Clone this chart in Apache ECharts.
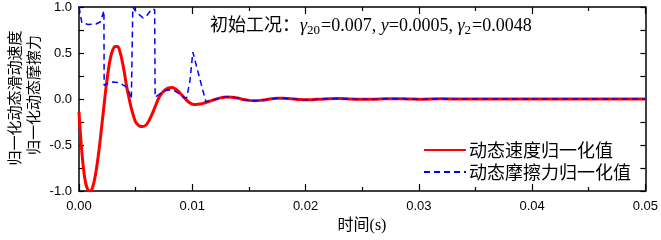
<!DOCTYPE html>
<html>
<head>
<meta charset="utf-8">
<script src="https://cdn.jsdelivr.net/npm/echarts@6/dist/echarts.min.js"></script>
<style>
  html, body { margin: 0; padding: 0; background: #fff; }
  #chart { width: 661px; height: 240px; }
</style>
</head>
<body>
<div id="chart"></div>
<script>
// 动态速度归一化值
const speedTime = [
  0, 0.0002, 0.0004, 0.0006, 0.0008, 0.001, 0.0012, 0.0014, 0.0016, 0.0018,
  0.002, 0.0022, 0.0024, 0.0026, 0.0028, 0.003, 0.0032, 0.0034, 0.0036, 0.0038,
  0.004, 0.0042, 0.0044, 0.0046, 0.0048, 0.005, 0.0053, 0.0056, 0.0059, 0.0062,
  0.0065, 0.0068, 0.007, 0.0073, 0.0076, 0.0079, 0.0082, 0.0085, 0.0088, 0.0091,
  0.0094, 0.0097, 0.01, 0.0103, 0.0107, 0.011, 0.0115, 0.012, 0.0125, 0.013,
  0.0135, 0.014, 0.0145, 0.015, 0.0155, 0.016, 0.0165, 0.017, 0.0175, 0.018,
  0.0185, 0.019, 0.0195, 0.02, 0.0205, 0.021, 0.022, 0.023, 0.024, 0.025,
  0.026, 0.027, 0.028, 0.029, 0.03, 0.032, 0.034, 0.036, 0.04, 0.045, 0.05
]
const speedValues = [
  -0.14, -0.5, -0.76, -0.92, -0.99, -1.0, -0.96, -0.86, -0.71, -0.52,
  -0.3, -0.08, 0.14, 0.32, 0.46, 0.54, 0.57, 0.57, 0.52, 0.42,
  0.29, 0.14, 0.02, -0.09, -0.18, -0.25, -0.29, -0.3, -0.285, -0.23,
  -0.15, -0.06, 0.0, 0.06, 0.1, 0.12, 0.125, 0.11, 0.08, 0.04,
  0.0, -0.035, -0.055, -0.06, -0.055, -0.045, -0.025, -0.005, 0.012, 0.022,
  0.02, 0.01, -0.005, -0.015, -0.018, -0.015, -0.007, 0.002, 0.007, 0.008,
  0.005, 0.0, -0.006, -0.009, -0.008, -0.004, 0.003, 0.005, 0.0, -0.004,
  -0.003, 0.002, 0.004, 0.001, -0.002, 0.002, -0.001, 0.001, 0, 0, 0
]

// 动态摩擦力归一化值
const frictionTime = [
  0, 0.00025, 0.0008, 0.0015, 0.0019, 0.0022, 0.00222, 0.0026, 0.003, 0.0034,
  0.0038, 0.0042, 0.0044, 0.00462, 0.00475, 0.0049, 0.0053, 0.00566, 0.006, 0.00645,
  0.00668, 0.00672, 0.0072, 0.0076, 0.008, 0.0084, 0.0088, 0.0092, 0.0095, 0.0098,
  0.01005, 0.0106, 0.0112, 0.0115, 0.012, 0.0125, 0.013, 0.0135, 0.014, 0.0145,
  0.015, 0.0155, 0.016, 0.0165, 0.017, 0.0175, 0.018, 0.0185, 0.019, 0.0195,
  0.02, 0.0205, 0.021, 0.022, 0.023, 0.024, 0.025, 0.026, 0.027, 0.028,
  0.029, 0.03, 0.032, 0.034, 0.036, 0.04, 0.045, 0.05
]
const frictionValues = [
  1.0, 0.83, 0.81, 0.815, 0.84, 0.96, 0.15, 0.17, 0.185, 0.18,
  0.16, 0.13, 0.08, 0.0, 1.0, 0.97, 0.92, 0.88, 0.91, 0.98,
  0.97, 0.02, 0.06, 0.09, 0.1, 0.09, 0.06, 0.02, 0.01, 0.2,
  0.51, 0.25, -0.03, -0.025, -0.005, 0.012, 0.022, 0.02, 0.01, -0.005,
  -0.015, -0.018, -0.015, -0.007, 0.002, 0.007, 0.008, 0.005, 0.0, -0.006,
  -0.009, -0.008, -0.004, 0.003, 0.005, 0.0, -0.004, -0.003, 0.002, 0.004,
  0.001, -0.002, 0.002, -0.001, 0.001, 0, 0, 0
]

const seriesNames = ['动态速度归一化值', '动态摩擦力归一化值']
const xTicks = { min: 0, max: 0.05, interval: 0.01 }
const yTicks = { min: -1, max: 1, interval: 0.5 }

const chart = echarts.init(document.getElementById('chart'), null, { renderer: 'canvas' })

const axisLine = { show: true, onZero: false, lineStyle: { color: '#000', width: 1.5 } }
const tickStyle = { color: '#000', width: 1.2 }
const labelFont = { color: '#000', fontSize: 13, fontFamily: 'Liberation Sans, Arial, sans-serif' }
const serif = 'Liberation Serif, Noto Sans CJK SC, serif'

chart.setOption({
  animation: false,
  grid: { left: 79, right: 14, top: 7, bottom: 49, containLabel: false },
  legend: {
    orient: 'vertical',
    left: 423,
    top: 141,
    padding: 0,
    itemWidth: 42,
    itemHeight: 14,
    itemGap: 4,
    itemStyle: { opacity: 0 },
    data: seriesNames,
    textStyle: {
      color: '#000',
      fontSize: 18,
      lineHeight: 18,
      fontFamily: 'Noto Sans CJK SC',
      padding: [0, 0, 0, -2]
    }
  },
  xAxis: [
    {
      type: 'value',
      min: xTicks.min,
      max: xTicks.max,
      interval: xTicks.interval,
      axisLine,
      axisTick: { inside: true, length: 7, lineStyle: tickStyle },
      minorTick: { show: true, splitNumber: 2, length: 4, lineStyle: tickStyle },
      axisLabel: { ...labelFont, margin: 9, formatter: (v) => v.toFixed(2) },
      splitLine: { show: false }
    },
    {
      type: 'value',
      position: 'top',
      min: xTicks.min,
      max: xTicks.max,
      interval: xTicks.interval,
      axisLine,
      axisTick: { inside: true, length: 7, lineStyle: tickStyle },
      minorTick: { show: true, splitNumber: 2, length: 4, lineStyle: tickStyle },
      axisLabel: { show: false },
      splitLine: { show: false }
    }
  ],
  yAxis: [
    {
      type: 'value',
      min: yTicks.min,
      max: yTicks.max,
      interval: yTicks.interval,
      axisLine,
      axisTick: { inside: true, length: 5, lineStyle: tickStyle },
      minorTick: { show: true, splitNumber: 2, length: 5, lineStyle: tickStyle },
      axisLabel: { ...labelFont, margin: 7, formatter: (v) => v.toFixed(1) },
      splitLine: { show: false }
    },
    {
      type: 'value',
      position: 'right',
      min: yTicks.min,
      max: yTicks.max,
      interval: yTicks.interval,
      axisLine,
      axisTick: { inside: true, length: 5, lineStyle: tickStyle },
      minorTick: { show: true, splitNumber: 2, length: 5, lineStyle: tickStyle },
      axisLabel: { show: false },
      splitLine: { show: false }
    }
  ],
  series: [
    {
      name: seriesNames[0],
      type: 'line',
      smooth: 0.4,
      symbol: 'none',
      color: '#ff0000',
      lineStyle: { color: '#ff0000', width: 3 },
      data: speedTime.map((t, i) => [t, speedValues[i]]),
      z: 2
    },
    {
      name: seriesNames[1],
      type: 'line',
      symbol: 'none',
      color: '#0000ff',
      lineStyle: { color: '#0000ff', width: 1.5, type: [6, 4] },
      data: frictionTime.map((t, i) => [t, frictionValues[i]]),
      z: 3
    }
  ],
  graphic: [
    {
      type: 'text',
      x: 14,
      y: 98,
      rotation: Math.PI / 2,
      style: {
        text: '归一化动态滑动速度',
        fill: '#000',
        font: '15px "Noto Sans CJK SC"',
        align: 'center',
        verticalAlign: 'middle'
      }
    },
    {
      type: 'text',
      x: 33,
      y: 95,
      rotation: Math.PI / 2,
      style: {
        text: '归一化动态摩擦力',
        fill: '#000',
        font: '15px "Noto Sans CJK SC"',
        align: 'center',
        verticalAlign: 'middle'
      }
    },
    {
      type: 'text',
      x: 362,
      y: 226,
      style: {
        text: '时间(s)',
        fill: '#000',
        font: '16px ' + serif,
        align: 'center',
        verticalAlign: 'middle'
      }
    },
    {
      type: 'text',
      x: 210,
      y: 26,
      style: {
        text: '{n|初始工况：}{i|γ}{s|20}{n|=0.007, }{i|y}{n|=0.0005, }{i|γ}{s|2}{n|=0.0048}',
        verticalAlign: 'middle',
        rich: {
          n: { fontSize: 18, fontFamily: serif, fill: '#000' },
          i: { fontSize: 18, fontFamily: serif, fontStyle: 'italic', fill: '#000' },
          s: { fontSize: 13, fontFamily: serif, fill: '#000', padding: [10, 1, 0, 0] }
        }
      }
    }
  ]
})
</script>
</body>
</html>
